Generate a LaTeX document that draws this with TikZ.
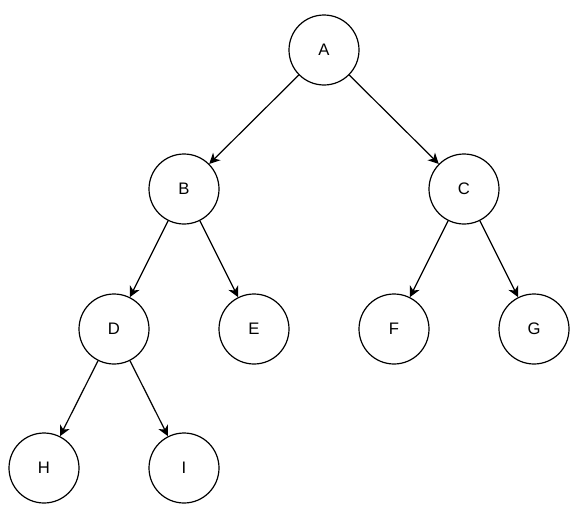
\documentclass[tikz,border=0pt]{standalone}
\usepackage{fontspec}
\setmainfont{Liberation Sans}
\usetikzlibrary{arrows.meta}
\begin{document}
\begin{tikzpicture}[x=0.75pt,y=-0.75pt,
  tnode/.style={circle,draw=black,line width=0.9pt,minimum size=52.5pt,inner sep=0pt,font=\fontsize{12.5}{14}\selectfont},
  edge/.style={draw=black,line width=0.9pt,-{Stealth[length=8pt,width=8pt,inset=2.4pt]}}]
\useasboundingbox (0,0) rectangle (580,521);
\node[tnode] (A) at (324,50) {A};
\node[tnode] (B) at (184,189) {B};
\node[tnode] (C) at (464,189) {C};
\node[tnode] (D) at (114,329) {D};
\node[tnode] (E) at (254,329) {E};
\node[tnode] (F) at (394,329) {F};
\node[tnode] (G) at (534,329) {G};
\node[tnode] (H) at (44,468) {H};
\node[tnode] (I) at (184,468) {I};
\draw[edge] (A) -- (B);
\draw[edge] (A) -- (C);
\draw[edge] (B) -- (D);
\draw[edge] (B) -- (E);
\draw[edge] (C) -- (F);
\draw[edge] (C) -- (G);
\draw[edge] (D) -- (H);
\draw[edge] (D) -- (I);
\end{tikzpicture}
\end{document}
